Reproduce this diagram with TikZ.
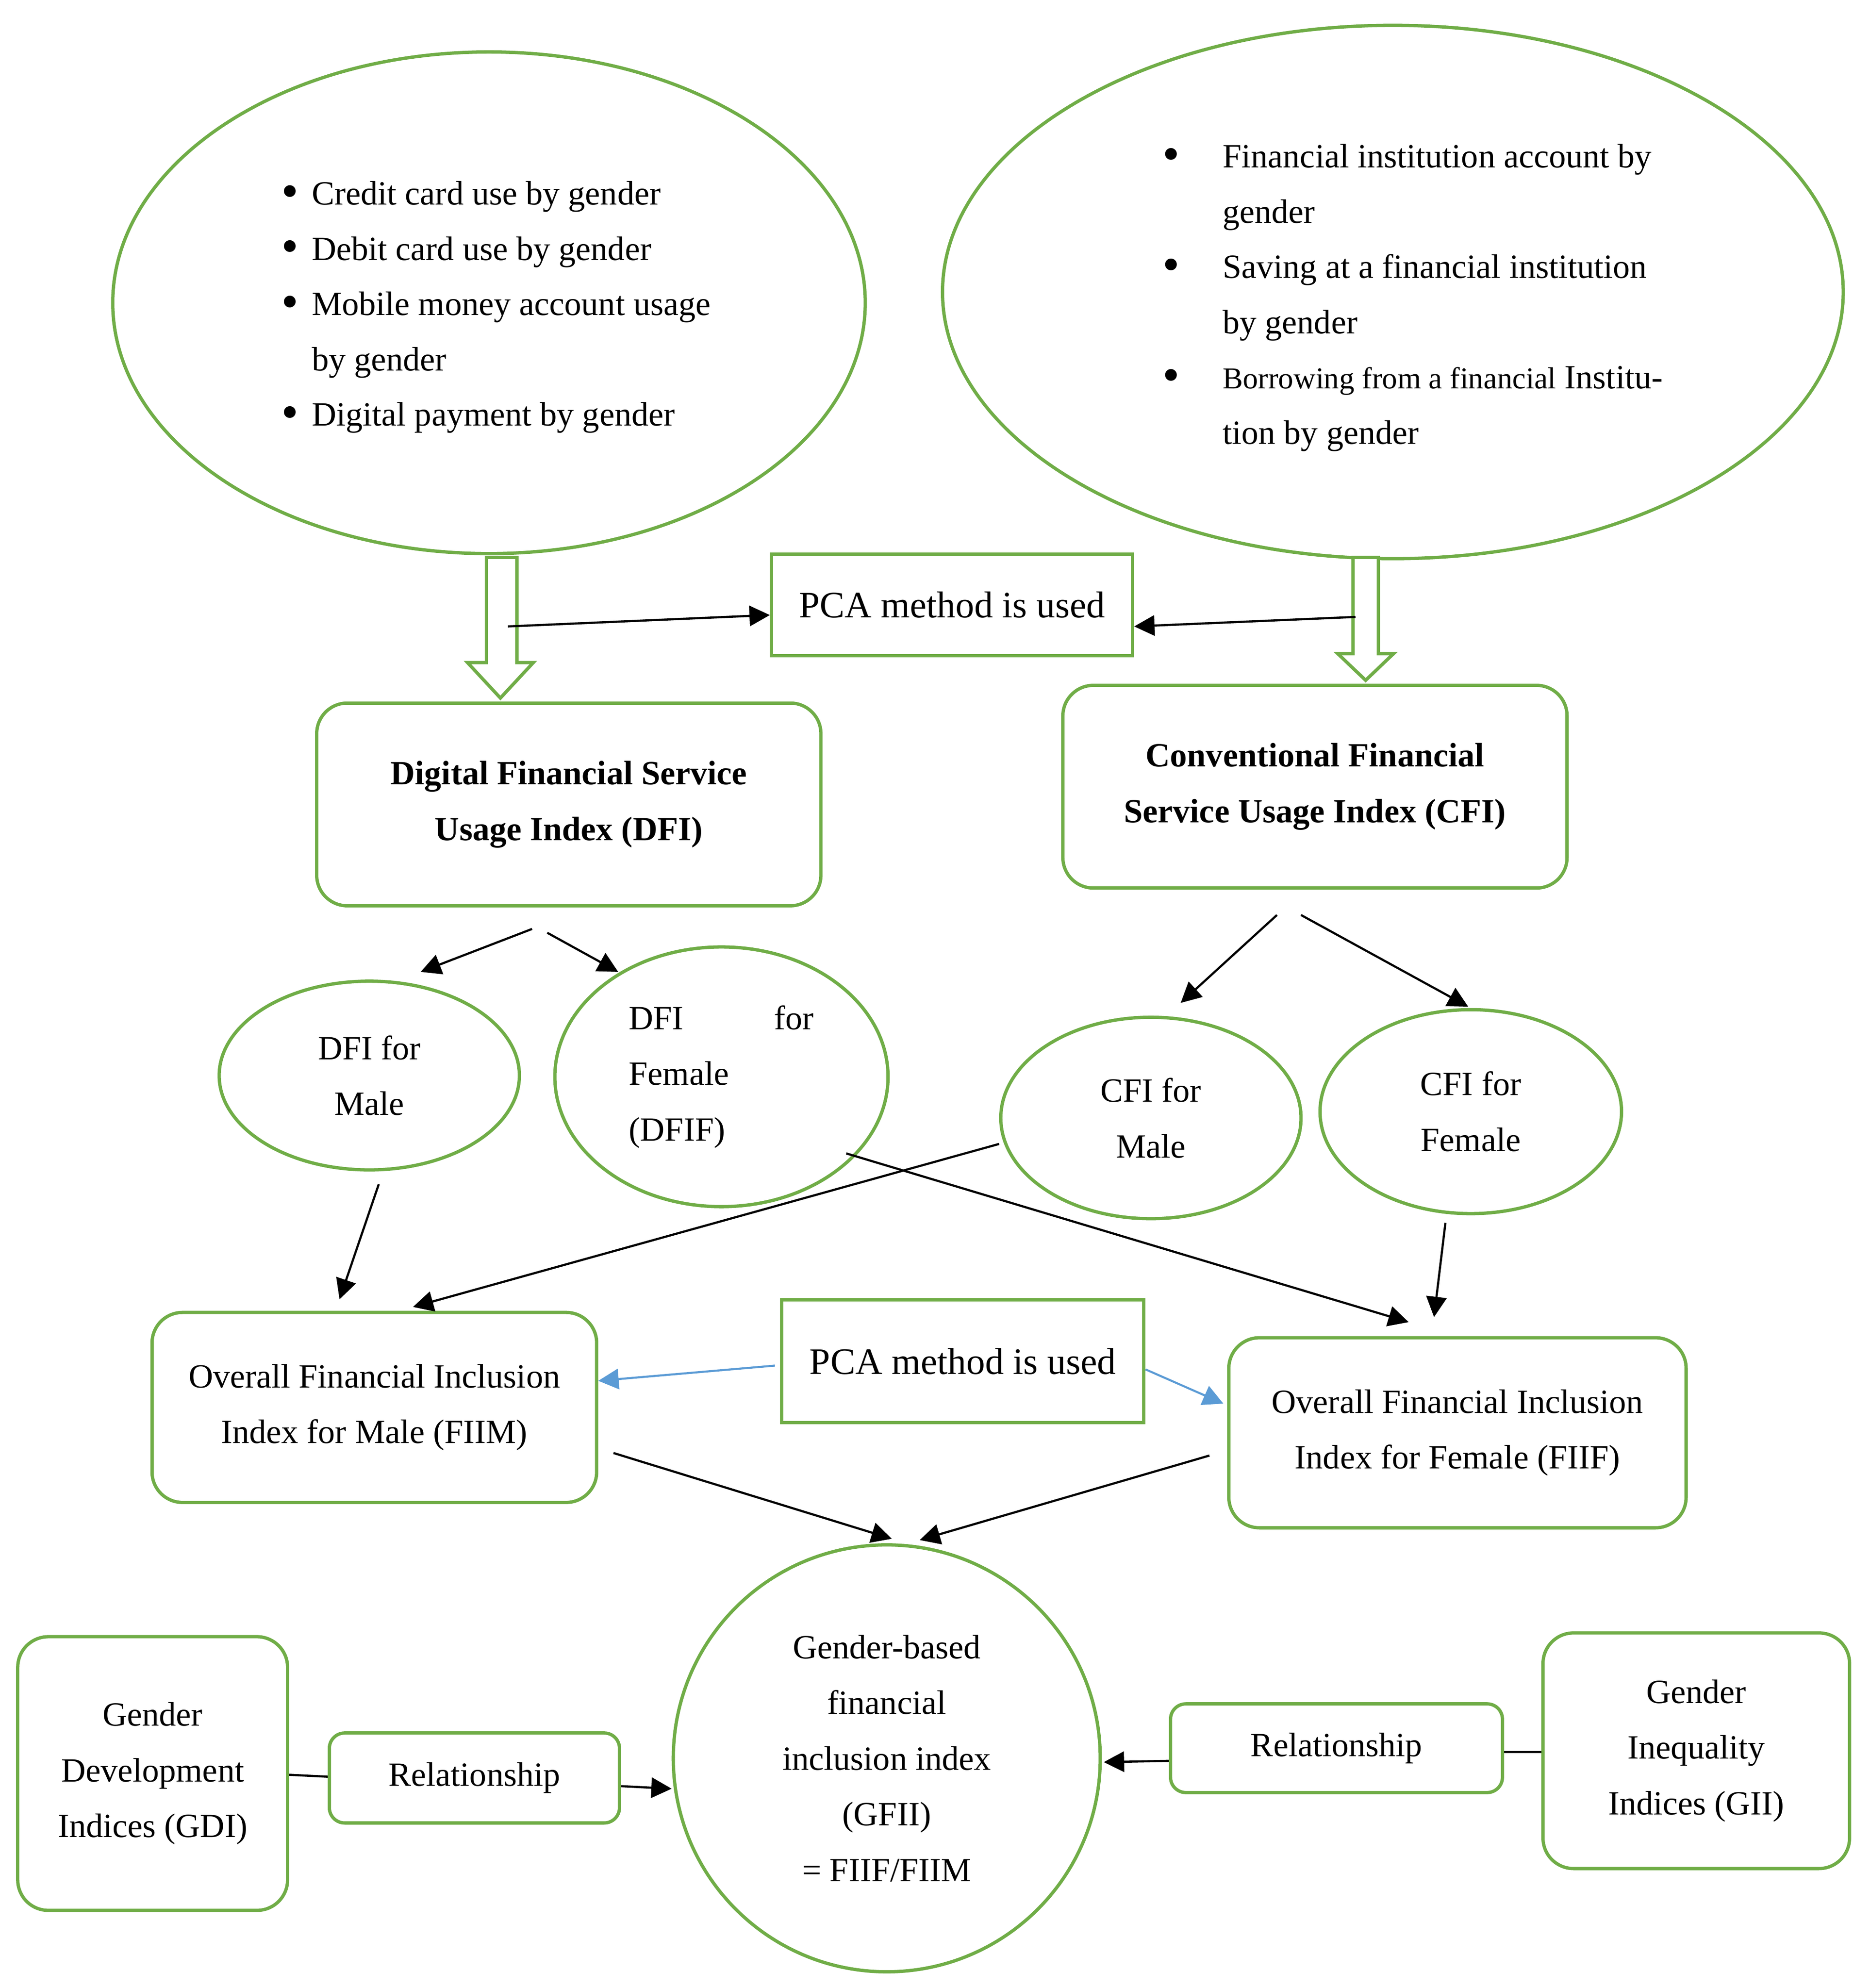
\documentclass[tikz,border=0pt]{standalone}
\usepackage{graphicx}
\usepackage{fontspec}
\setmainfont{Liberation Serif}
\usetikzlibrary{shapes.geometric,arrows.meta,calc}
\definecolor{grn}{HTML}{70AD47}
\definecolor{blu}{HTML}{5B9BD5}
\newcommand{\bigbul}{\raisebox{-0.08em}{\scalebox{1.45}{•}}}
\begin{document}
\begin{tikzpicture}[x=1pt,y=-1pt,scale=0.996,transform shape,
  every node/.style={font=\fontsize{26.8}{44}\selectfont},
  gline/.style={draw=grn, line width=2.6pt},
  ell/.style={gline, ellipse, inner sep=0pt, align=center},
  rbox/.style={gline, rectangle, rounded corners=24pt, inner sep=0pt, align=center},
  rsmall/.style={gline, rectangle, rounded corners=12pt, inner sep=0pt, align=center},
  sbox/.style={gline, rectangle, inner sep=0pt, align=center, font=\fontsize{29.5}{44}\selectfont},
  boldtxt/.style={font=\fontsize{26.8}{44}\selectfont\bfseries},
  listtxt/.style={inner sep=0pt, align=left, font=\fontsize{26.8}{43.6}\selectfont},
  arr/.style={draw=black, line width=1.7pt, -{Triangle[length=16pt,width=16pt]}},
  barr/.style={draw=blu, line width=1.6pt, -{Triangle[length=16pt,width=16pt]}},
  plain/.style={draw=black, line width=1.7pt},
  blockarrow/.style={draw=grn, line width=2.6pt, fill=white}
]
\useasboundingbox (0,0) rectangle (1475.9,1569.3);

% top ellipses
\node[ell, minimum width=594pt, minimum height=396pt] (ellL) at (386,239) {};
\node[ell, minimum width=711pt, minimum height=421pt] (ellR) at (1099.5,230.5) {};
\node[listtxt, anchor=west] (listL) at (222,242.5) {%
\makebox[24pt][l]{\bigbul}Credit card use by gender\\
\makebox[24pt][l]{\bigbul}Debit card use by gender\\
\makebox[24pt][l]{\bigbul}Mobile money account usage\\
\hspace*{24pt}by gender\\
\makebox[24pt][l]{\bigbul}Digital payment by gender};
\node[listtxt, anchor=west] (listR) at (917.5,235) {%
\makebox[47.5pt][l]{\bigbul}Financial institution account by\\
\hspace*{47.5pt}gender\\
\makebox[47.5pt][l]{\bigbul}Saving at a financial institution\\
\hspace*{47.5pt}by gender\\
\makebox[47.5pt][l]{\bigbul}{\fontsize{24}{43.6}\selectfont Borrowing from a financial} Institu-\\
\hspace*{47.5pt}tion by gender};

% hollow block arrows
\draw[blockarrow] (384,440) -- (408,440) -- (408,523) -- (421,523) -- (395,551) -- (369,523) -- (384,523) -- cycle;
\draw[blockarrow] (1068,440) -- (1088,440) -- (1088,516) -- (1100,516) -- (1078,537) -- (1056,516) -- (1068,516) -- cycle;
\coordinate (bL) at (401,494.5);
\coordinate (bR) at (1070,487);

% PCA box top
\node[sbox, minimum width=285pt, minimum height=80pt] (pca1) at (751.5,477.5) {PCA method is used};

% index boxes
\node[rbox, boldtxt, minimum width=398pt, minimum height=160pt] (dfi) at (449,635) {Digital Financial Service\\Usage Index (DFI)};
\node[rbox, boldtxt, minimum width=398pt, minimum height=160pt] (cfi) at (1038,621) {Conventional Financial\\Service Usage Index (CFI)};

% gender ellipses
\node[ell, minimum width=237pt, minimum height=149pt] (dfim) at (291.5,849) {DFI for\\Male};
\node[ell, minimum width=263pt, minimum height=205pt, text width=146pt, align=left] (dfif) at (569.5,850) {\makebox[146pt]{DFI\hfill for}\\Female\\(DFIF)};
\node[ell, minimum width=237pt, minimum height=159pt] (cfim) at (908.5,882.5) {CFI for\\Male};
\node[ell, minimum width=238pt, minimum height=161pt] (cfif) at (1161,877.5) {CFI for\\Female};

% overall boxes
\node[rbox, minimum width=351pt, minimum height=150pt] (fiim) at (295.5,1111) {Overall Financial Inclusion\\Index for Male (FIIM)};
\node[sbox, minimum width=286pt, minimum height=97pt] (pca2) at (760,1074.5) {PCA method is used};
\node[rbox, minimum width=361pt, minimum height=150pt] (fiif) at (1150.5,1131) {Overall Financial Inclusion\\Index for Female (FIIF)};

% GFII circle
\node[ell, circle, minimum size=337pt] (gfii) at (700,1388) {Gender-based\\financial\\inclusion index\\(GFII)\\= FIIF/FIIM};

% bottom boxes
\node[rbox, minimum width=213pt, minimum height=216pt] (gdi) at (120.5,1400) {Gender\\Development\\Indices (GDI)};
\node[rsmall, minimum width=229pt, minimum height=71pt] (rel1) at (374.5,1403.5) {Relationship};
\node[rsmall, minimum width=262pt, minimum height=70pt] (rel2) at (1055,1380) {Relationship};
\node[rbox, minimum width=242pt, minimum height=186pt] (gii) at (1339,1382) {Gender\\Inequality\\Indices (GII)};

% connectors
\draw[arr] (bL) -- ($(pca1.west)+(0,8)$);
\draw[arr] (bR) -- ($(pca1.east)+(0,17)$);
\draw[arr] ($(dfi.south)+(-29,17)$) -- ($(dfim.north)+(40.5,-6)$);
\draw[arr] ($(dfi.south)+(-17,20)$) -- ($(dfif.north)+(-81.5,21)$);
\draw[arr] ($(cfi.south)+(-30,20)$) -- ($(cfim.north)+(23.5,-10)$);
\draw[arr] ($(cfi.south)+(-11,20)$) -- ($(cfif.north)+(-2,-1)$);
\draw[arr] ($(dfim.south)+(7.5,10)$) -- ($(fiim.north)+(-27.5,-9)$);
\draw[arr] ($(cfim.west)+(0,20.5)$) -- ($(fiim.north)+(30.5,-3)$);
\draw[arr] ($(dfif.center)+(98.5,60.5)$) -- ($(fiif.north)+(-38.5,-11)$);
\draw[arr] ($(cfif.south)+(-20,6)$) -- ($(fiif.north)+(-18.5,-15)$);
\draw[barr] ($(pca2.west)+(-4,3.5)$) -- ($(fiim.east)+(0,-21)$);
\draw[barr] ($(pca2.east)+(0,6.5)$) -- ($(fiif.west)+(-3,-23)$);
\draw[arr] ($(fiim.east)+(12,36)$) -- ($(gfii.north)+(4,-3.5)$);
\draw[arr] ($(fiif.west)+(-14,18)$) -- ($(gfii.north)+(26,-2.5)$);
\draw[plain] ($(gdi.east)+(0,1)$) -- ($(rel1.west)+(0,-1)$);
\draw[arr] ($(rel1.east)+(0,6.5)$) -- ($(gfii.west)+(0,24)$);
\draw[plain] ($(rel2.east)+(0,3)$) -- ($(gii.west)+(0,1)$);
\draw[arr] ($(rel2.west)+(0,10)$) -- ($(gfii.east)+(1.5,3)$);
\end{tikzpicture}
\end{document}
